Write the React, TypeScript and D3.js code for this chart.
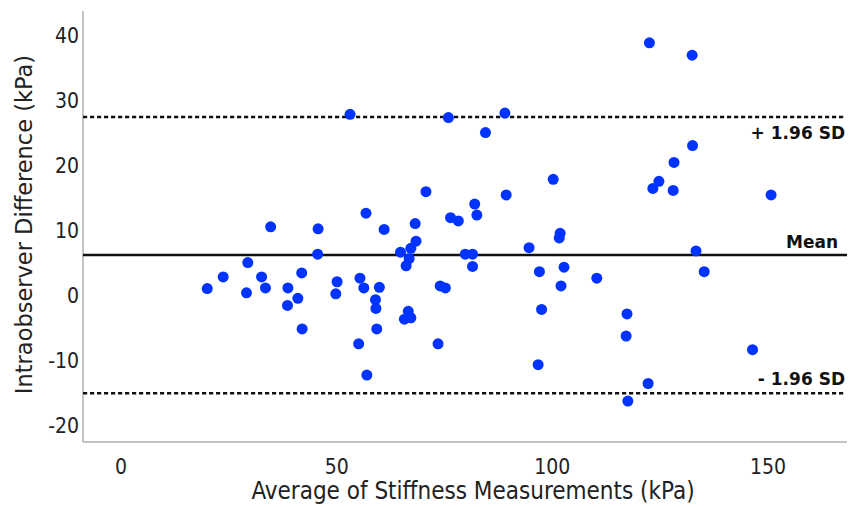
import React, { useEffect, useRef } from "react";
import * as d3 from "d3";

const W = 857;
const H = 507;

const avgValues = [
  20.0, 23.7, 29.1, 29.4, 32.6, 33.5, 34.7, 38.6, 38.7, 41.0, 41.9, 42.0, 45.6, 45.7, 49.8, 50.1,
  53.1, 55.1, 55.4, 56.3, 56.8, 57.0, 59.0, 59.1, 59.3, 59.9, 61.0, 64.8, 65.7, 66.1, 66.6, 66.8,
  67.2, 67.2, 68.2, 68.4, 70.7, 73.5, 74.0, 75.2, 75.9, 76.4, 78.2, 79.8, 81.5, 81.5, 82.0, 82.5,
  84.5, 89.0, 89.3, 94.6, 96.7, 97.0, 97.5, 100.2, 101.6, 101.8, 102.0, 102.7, 110.3, 117.1, 117.3,
  117.5, 122.2, 122.5, 123.3, 124.7, 128.0, 128.2, 132.4, 132.5, 133.3, 135.2, 146.4, 150.7,
];
const diffValues = [
  1.0, 2.8, 0.35, 5.0, 2.8, 1.1, 10.5, -1.6, 1.1, -0.5, 3.4, -5.2, 6.3, 10.2, 0.2, 2.05,
  27.8, -7.5, 2.6, 1.1, 12.6, -12.3, -0.7, -2.05, -5.2, 1.2, 10.1, 6.6, -3.7, 4.5, -2.5, 5.6,
  7.2, -3.5, 11.0, 8.3, 15.9, -7.5, 1.4, 1.1, 27.3, 11.9, 11.4, 6.3, 6.3, 4.4, 14.0, 12.3,
  25.0, 28.0, 15.4, 7.3, -10.7, 3.6, -2.2, 17.8, 8.8, 9.5, 1.4, 4.3, 2.6, -6.3, -2.9,
  -16.3, -13.6, 38.8, 16.4, 17.5, 16.1, 20.4, 36.9, 23.0, 6.8, 3.6, -8.4, 15.4,
];
const xTicks = [0, 50, 100, 150];
const yTicks = [-20, -10, 0, 10, 20, 30, 40];
const meanValue = 6.15;
const upperLimit = 27.4;
const lowerLimit = -15.1;
const refLabels = ["+ 1.96 SD", "Mean", "- 1.96 SD"];

const FONT = "'DejaVu Sans Condensed', 'DejaVu Sans', Verdana, sans-serif";
const REG_FONT = "'DejaVu Sans', Verdana, sans-serif";

export default function App() {
  const ref = useRef<SVGSVGElement>(null);

  useEffect(() => {
    const svg = d3.select(ref.current);
    svg.selectAll("*").remove();

    const left = 83, right = 847, top = 11, bottom = 442;
    const x = d3.scaleLinear().domain([-8.8, 168.3]).range([left, right]);
    const y = d3.scaleLinear().domain([-22.6, 43.7]).range([bottom, top]);

    // axes lines
    svg.append("line").attr("x1", left).attr("x2", left).attr("y1", top).attr("y2", bottom)
      .attr("stroke", "#b0b0b0").attr("stroke-width", 1.5);
    svg.append("line").attr("x1", left).attr("x2", right).attr("y1", bottom).attr("y2", bottom)
      .attr("stroke", "#b0b0b0").attr("stroke-width", 1.5);

    // ticks
    svg.append("g").selectAll("text").data(xTicks).join("text")
      .attr("x", (d) => x(d)).attr("y", 474).attr("text-anchor", "middle")
      .attr("font-family", FONT).attr("font-size", 21).attr("fill", "#222")
      .text((d) => String(d));
    svg.append("g").selectAll("text").data(yTicks).join("text")
      .attr("x", 79).attr("y", (d) => y(d)).attr("dy", "0.36em").attr("text-anchor", "end")
      .attr("font-family", FONT).attr("font-size", 21).attr("fill", "#222")
      .text((d) => String(d));

    // titles
    svg.append("text").attr("x", 473).attr("y", 499).attr("text-anchor", "middle")
      .attr("font-family", FONT).attr("font-size", 24).attr("fill", "#222")
      .text("Average of Stiffness Measurements (kPa)");
    svg.append("text").attr("transform", `translate(32,224.5) rotate(-90)`)
      .attr("text-anchor", "middle")
      .attr("font-family", REG_FONT).attr("font-size", 22.5).attr("fill", "#222")
      .text("Intraobserver Difference (kPa)");

    // reference lines
    [upperLimit, lowerLimit].forEach((v) => {
      svg.append("line").attr("x1", left).attr("x2", 845).attr("y1", y(v)).attr("y2", y(v))
        .attr("stroke", "#111").attr("stroke-width", 2.6).attr("stroke-dasharray", "4.2,2.8");
    });
    svg.append("line").attr("x1", left).attr("x2", right).attr("y1", y(meanValue)).attr("y2", y(meanValue))
      .attr("stroke", "#111").attr("stroke-width", 2.5);

    // points
    const pts = avgValues.map((a, i) => [a, diffValues[i]] as [number, number]);
    svg.append("g").selectAll("circle").data(pts).join("circle")
      .attr("cx", (d) => x(d[0])).attr("cy", (d) => y(d[1])).attr("r", 5.5)
      .attr("fill", "#0033ff");

    // labels
    const labelY = [y(upperLimit) + 22, y(meanValue) - 7, y(lowerLimit) - 8];
    svg.append("g").selectAll("text").data(refLabels).join("text")
      .attr("x", (_d, i) => (i === 1 ? 838 : 845)).attr("y", (_d, i) => labelY[i])
      .attr("text-anchor", "end").attr("font-family", REG_FONT).attr("font-weight", "bold")
      .attr("font-size", 17).attr("fill", "#111")
      .text((d) => d);
  }, []);

  return (
    <svg ref={ref} width={W} height={H}
      style={{ position: "absolute", left: 0, top: 0, background: "#fff" }} />
  );
}
